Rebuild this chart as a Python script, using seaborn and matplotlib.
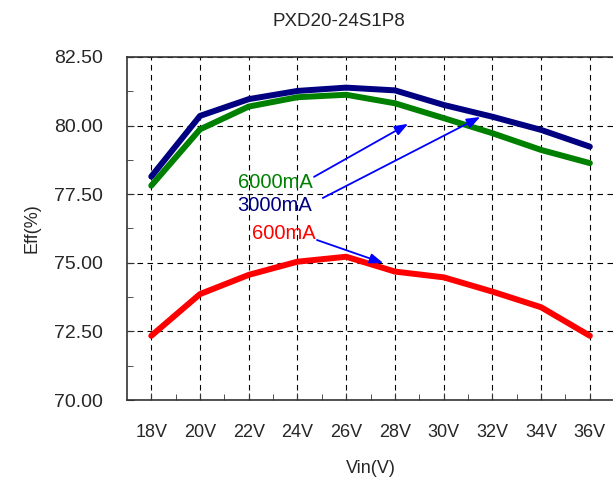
import pandas as pd
import matplotlib
matplotlib.use("Agg")
import matplotlib.pyplot as plt
from matplotlib.ticker import MultipleLocator
import seaborn as sns

# Data
vin = ["18V", "20V", "22V", "24V", "26V", "28V", "30V", "32V", "34V", "36V"]
eff_6000 = [77.81, 79.86, 80.69, 81.03, 81.12, 80.81, 80.27, 79.72, 79.11, 78.63]
eff_3000 = [78.14, 80.35, 80.96, 81.26, 81.38, 81.28, 80.75, 80.32, 79.84, 79.23]
eff_600 = [72.34, 73.86, 74.56, 75.04, 75.22, 74.68, 74.47, 73.95, 73.38, 72.34]
loads = ["6000mA", "3000mA", "600mA"]
colors = {"6000mA": "#008000", "3000mA": "#000080", "600mA": "#ff0000"}

df = pd.concat([
    pd.DataFrame({"Vin": vin, "Eff": eff_6000, "Load": "6000mA"}),
    pd.DataFrame({"Vin": vin, "Eff": eff_3000, "Load": "3000mA"}),
    pd.DataFrame({"Vin": vin, "Eff": eff_600, "Load": "600mA"}),
], ignore_index=True)

sns.set_style("ticks")
plt.rcParams['font.family'] = ['Liberation Sans', 'DejaVu Sans']

fig = plt.figure(figsize=(6.13, 4.82), dpi=100)
ax = fig.add_axes([0.207, 0.170, 0.795, 0.712])

sns.lineplot(data=df, x="Vin", y="Eff", hue="Load", hue_order=loads,
             palette=colors, linewidth=4.3, sort=False, legend=False, ax=ax,
             solid_capstyle="round", solid_joinstyle="round", zorder=3)

ax.set_xlim(-0.5, len(vin) - 0.5)
ax.set_ylim(70, 82.5)
ax.yaxis.set_major_locator(MultipleLocator(2.5))
ax.yaxis.set_minor_locator(MultipleLocator(1.25))
ax.set_yticklabels([f"{v:.2f}" for v in ax.get_yticks()])
ax.set_xticks(range(len(vin)))
ax.set_xticklabels(vin)
ax.set_xticks([i + 0.5 for i in range(len(vin) - 1)], minor=True)

ax.grid(True, which="major", color="black", linestyle=(0, (5, 4)), linewidth=0.8)
ax.tick_params(which="both", direction="in", labelsize=13, color="#333333")
ax.tick_params(axis="y", labelsize=14)
ax.tick_params(which="major", length=5)
ax.tick_params(which="minor", length=4)
ax.tick_params(axis="x", pad=17)
ax.tick_params(axis="y", pad=17)
for s in ["left", "bottom", "top"]:
    ax.spines[s].set_color("#333333")
    ax.spines[s].set_linewidth(1.2)
ax.spines["right"].set_visible(False)

ax.set_xlabel("Vin(V)", fontsize=13, labelpad=14)
ax.set_ylabel("Eff(%)", fontsize=13, labelpad=10)
fig.text(339 / 613, 1 - 22 / 482, "PXD20-24S1P8", fontsize=13.5,
         ha="center", va="center")

# labels with arrows
notes = [
    ("6000mA", (3.32, 77.91), (3.34, 78.13), (5.27, 80.06)),
    ("3000mA", (3.30, 77.07), (3.52, 77.36), (6.75, 80.31)),
    ("600mA", (3.38, 76.05), (3.40, 75.83), (4.76, 74.99)),
]
for name, txt, start, end in notes:
    ax.text(txt[0], txt[1], name, color=colors[name], fontsize=14.5,
            ha="right", va="center", zorder=5)
    ax.annotate("", xy=end, xytext=start, zorder=5,
                arrowprops=dict(arrowstyle="-|>,head_length=0.8,head_width=0.3",
                                color="#0000ff", lw=1.3, shrinkA=0, shrinkB=0))

fig.savefig("out.png", dpi=100)
